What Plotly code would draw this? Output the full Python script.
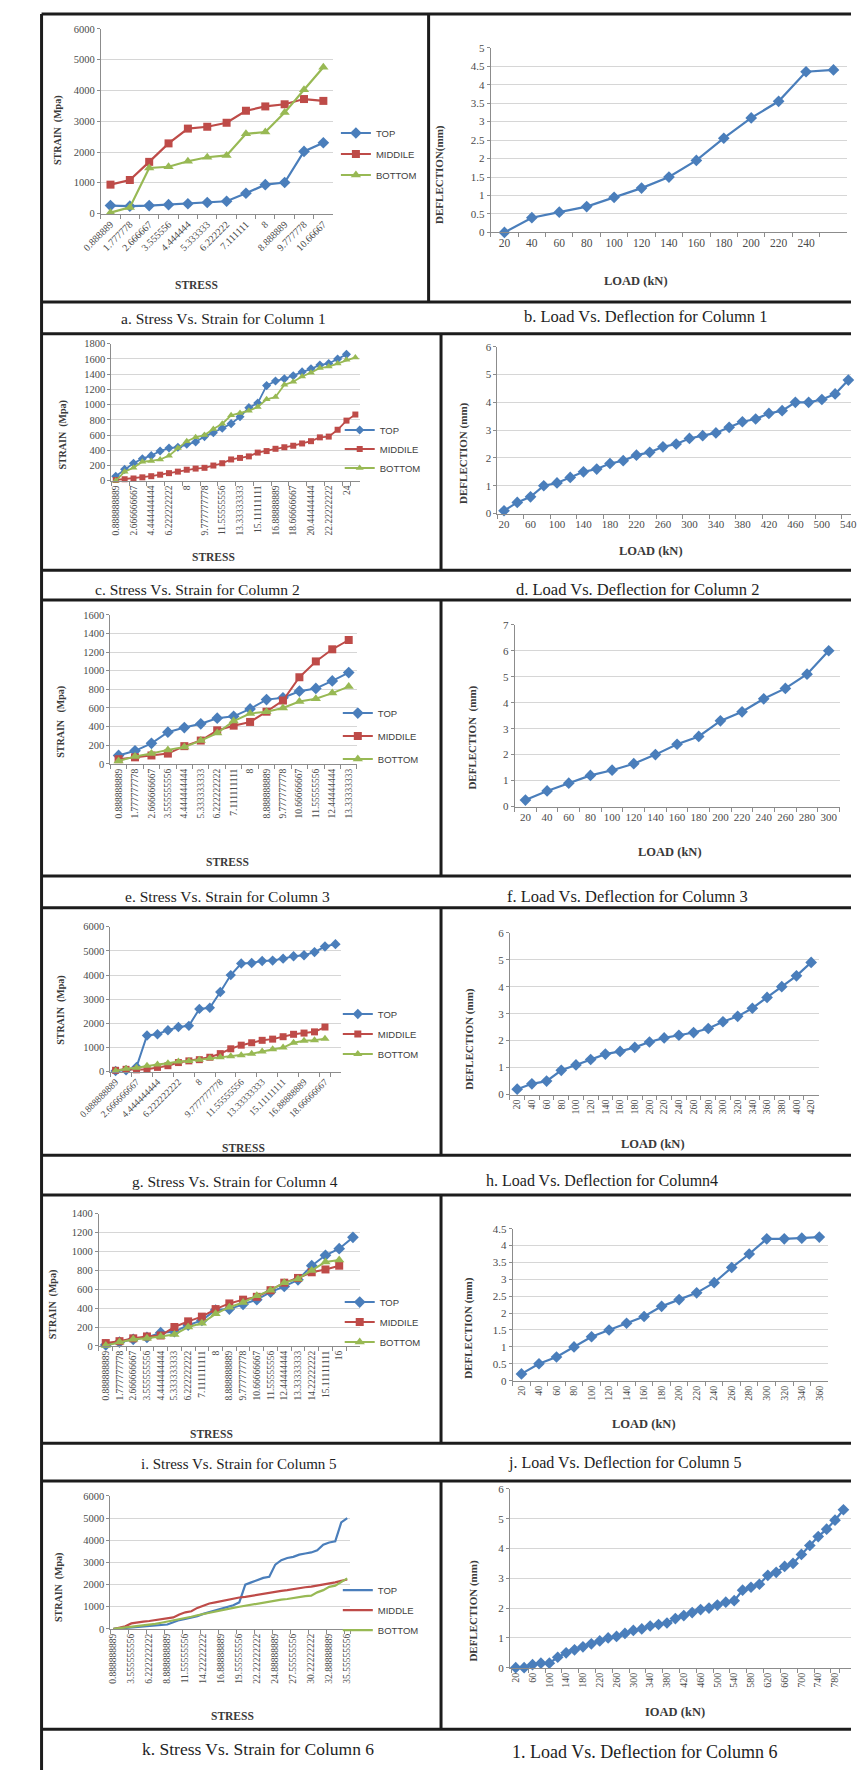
import plotly.graph_objects as go

W, H = 857, 1776

# ---------------------------------------------------------------- categories
STRESS_LABELS = [
    "0.888888889", "1.777777778", "2.666666667", "3.555555556", "4.444444444",
    "5.333333333", "6.222222222", "7.111111111", "8", "8.888888889",
    "9.777777778", "10.66666667", "11.55555556", "12.44444444", "13.33333333",
    "14.22222222", "15.11111111", "16", "16.88888889", "17.77777778",
    "18.66666667", "19.55555556", "20.44444444", "21.33333333", "22.22222222",
    "23.11111111", "24", "24.88888889", "25.77777778", "26.66666667",
    "27.55555556", "28.44444444", "29.33333333", "30.22222222", "31.11111111",
    "32", "32.88888889", "33.77777778", "34.66666667", "35.55555556",
]
STRESS_LABELS_C1 = [
    "0.888889", "1.777778", "2.666667", "3.555556", "4.444444", "5.333333",
    "6.222222", "7.111111", "8", "8.888889", "9.777778", "10.66667",
]
LOAD_STEPS = [
    "20", "40", "60", "80", "100", "120", "140", "160", "180", "200",
    "220", "240", "260", "280", "300", "320", "340", "360", "380", "400",
    "420", "440", "460", "480", "500", "520", "540", "560", "580", "600",
    "620", "640", "660", "680", "700", "720", "740", "760", "780", "800",
]

# ---------------------------------------------------------------- column 1
C1_TOP = [260, 240, 260, 290, 320, 360, 400, 660, 940, 1010, 2020, 2300]
C1_MIDDLE = [940, 1090, 1680, 2280, 2760, 2820, 2950, 3340, 3480, 3550, 3720, 3660]
C1_BOTTOM = [30, 200, 1480, 1520, 1700, 1830, 1890, 2590, 2650, 3280, 4020, 4750]
C1_DEFLECTION = [0, 0.4, 0.55, 0.7, 0.95, 1.2, 1.5, 1.95, 2.55, 3.1, 3.55, 4.35, 4.4]

# ---------------------------------------------------------------- column 2
C2_TOP = [60, 150, 230, 290, 330, 390, 430, 440, 480, 510, 580, 630, 690, 750,
          840, 960, 1020, 1250, 1310, 1340, 1380, 1430, 1470, 1520, 1540, 1600, 1660]
C2_MIDDLE = [10, 20, 30, 45, 60, 80, 100, 120, 145, 160, 170, 200, 230, 280,
             300, 320, 370, 390, 420, 440, 460, 490, 520, 570, 580, 670, 790, 870]
C2_BOTTOM = [0, 120, 170, 250, 260, 280, 330, 430, 520, 570, 600, 680, 750, 860,
             890, 920, 970, 1070, 1100, 1260, 1300, 1370, 1420, 1480, 1500, 1540, 1590, 1620]
C2_DEFLECTION = [0.1, 0.4, 0.6, 1.0, 1.1, 1.3, 1.5, 1.6, 1.8, 1.9, 2.1, 2.2, 2.4, 2.5,
                 2.7, 2.8, 2.9, 3.1, 3.3, 3.4, 3.6, 3.7, 4.0, 4.0, 4.1, 4.3, 4.8]

# ---------------------------------------------------------------- column 3
C3_TOP = [90, 140, 220, 340, 390, 430, 490, 510, 590, 690, 710, 780, 810, 890, 980]
C3_MIDDLE = [50, 70, 90, 110, 190, 250, 360, 410, 450, 560, 680, 930, 1100, 1230, 1330]
C3_BOTTOM = [30, 80, 110, 150, 180, 250, 330, 460, 540, 560, 600, 670, 700, 760, 830]
C3_DEFLECTION = [0.25, 0.6, 0.9, 1.2, 1.4, 1.65, 2.0, 2.4, 2.7, 3.3, 3.65, 4.15, 4.55, 5.1, 6.0]

# ---------------------------------------------------------------- column 4
C4_TOP = [30, 60, 200, 1500, 1550, 1720, 1850, 1900, 2600, 2650, 3300, 4000,
          4480, 4500, 4580, 4600, 4680, 4780, 4820, 4950, 5180, 5280]
C4_MIDDLE = [60, 100, 80, 100, 180, 250, 380, 450, 500, 600, 750, 950, 1100,
             1200, 1300, 1350, 1450, 1550, 1600, 1650, 1850]
C4_BOTTOM = [30, 120, 170, 250, 300, 350, 420, 450, 500, 560, 600, 640, 680,
             740, 840, 930, 1000, 1200, 1280, 1300, 1370]
C4_DEFLECTION = [0.2, 0.4, 0.5, 0.9, 1.1, 1.3, 1.5, 1.6, 1.75, 1.95, 2.1, 2.2,
                 2.3, 2.45, 2.7, 2.9, 3.2, 3.6, 4.0, 4.4, 4.9]

# ---------------------------------------------------------------- column 5
C5_TOP = [10, 40, 70, 90, 140, 150, 220, 270, 380, 390, 440, 490, 570, 630,
          700, 850, 960, 1030, 1150]
C5_MIDDLE = [30, 50, 80, 100, 110, 200, 260, 310, 390, 450, 490, 520, 590, 670,
             720, 780, 810, 850]
C5_BOTTOM = [5, 40, 70, 80, 100, 120, 200, 240, 340, 410, 460, 530, 590, 670,
             710, 800, 890, 910]
C5_DEFLECTION = [0.2, 0.5, 0.7, 1.0, 1.3, 1.5, 1.7, 1.9, 2.2, 2.4, 2.6, 2.9,
                 3.35, 3.75, 4.2, 4.2, 4.22, 4.25]

# ---------------------------------------------------------------- column 6
C6_TOP = [0, 20, 40, 60, 80, 100, 110, 130, 160, 200, 300, 400, 450, 500, 580,
          680, 760, 850, 920, 1000, 1070, 1200, 2000, 2100, 2200, 2300, 2350,
          2900, 3100, 3200, 3250, 3350, 3400, 3450, 3550, 3800, 3900, 3950, 4800, 5000]
C6_MIDDLE = [0, 60, 120, 250, 300, 330, 360, 400, 440, 480, 520, 650, 750, 800,
             950, 1050, 1150, 1200, 1260, 1320, 1380, 1420, 1450, 1500, 1550, 1600,
             1650, 1680, 1720, 1750, 1800, 1850, 1880, 1910, 1950, 2000, 2050, 2100,
             2170, 2230]
C6_BOTTOM = [0, 30, 60, 100, 130, 170, 200, 230, 280, 330, 400, 450, 500, 550,
             620, 680, 740, 800, 850, 900, 950, 1000, 1050, 1100, 1150, 1200, 1250,
             1300, 1320, 1350, 1400, 1450, 1480, 1500, 1650, 1750, 1900, 1950, 2100, 2280]
C6_DEFLECTION = [0, 0, 0.1, 0.15, 0.15, 0.35, 0.5, 0.6, 0.7, 0.8, 0.9, 1.0, 1.05,
                 1.15, 1.25, 1.3, 1.4, 1.45, 1.5, 1.65, 1.75, 1.85, 1.95, 2.0, 2.1,
                 2.2, 2.25, 2.6, 2.7, 2.8, 3.1, 3.2, 3.4, 3.5, 3.8, 4.1, 4.4, 4.65,
                 4.95, 5.3]

SERIES_STYLE = {
    "TOP": dict(color="#4A7EBB", symbol="diamond", boost=1),
    "MIDDILE": dict(color="#BE4B48", symbol="square", boost=0),
    "MIDDLE": dict(color="#BE4B48", symbol="square", boost=0),
    "BOTTOM": dict(color="#98B954", symbol="triangle-up", boost=1),
}
BLUE = "#4A7EBB"
SERIF = "Liberation Serif"
SANS = "Liberation Sans"


def fx(px):
    return px / W


def fy(py):
    return 1 - py / H


# box = (left, right, top, bottom) of the plotting area, in page pixels
panels = [
    dict(kind="strain", box=(72, 315, 23, 209), cats=STRESS_LABELS_C1,
         series=[("TOP", C1_TOP), ("MIDDILE", C1_MIDDLE), ("BOTTOM", C1_BOTTOM)],
         ymax=6000, dy=1000, xr=(-0.5, 11.5), ticks=STRESS_LABELS_C1, angle=-45,
         xfs=10, msize=8, lw=2.2, legend=(318, 149, 2),
         ytitle=("STRAIN  (Mpa)", 27, 125), xtitle=("STRESS", 172, 281),
         caption=("a. Stress Vs. Strain for Column 1", 200, 315, 15.5)),
    dict(kind="load", box=(480, 853, 42, 228), cats=LOAD_STEPS[:13],
         values=C1_DEFLECTION, ymax=5, dy=0.5, xr=(-0.5, 12.5),
         ticks=LOAD_STEPS[:12], angle=0, xfs=11.5,
         ytitle=("DEFLECTION(mm)", 427, 170), xtitle=("LOAD (kN)", 632, 277),
         caption=("b. Load Vs. Deflection for Column 1", 643, 313, 16.5)),
    dict(kind="strain", box=(83, 343, 340, 478), cats=STRESS_LABELS[:28],
         series=[("TOP", C2_TOP), ("MIDDILE", C2_MIDDLE), ("BOTTOM", C2_BOTTOM)],
         ymax=1800, dy=200, xr=(-0.5, 27.5), ticks=STRESS_LABELS[:28:2], angle=-90,
         xfs=9.5, msize=6, lw=1.8, legend=(322, 446, 0),
         ytitle=("STRAIN  (Mpa)", 33, 432), xtitle=("STRESS", 190, 555),
         caption=("c. Stress Vs. Strain for Column 2", 173, 587, 15.5)),
    dict(kind="load", box=(487, 857, 343, 511), cats=LOAD_STEPS[:27],
         values=C2_DEFLECTION, ymax=6, dy=1, xr=(-0.5, 26.2),
         ticks=LOAD_STEPS[:27:2], angle=0, xfs=11,
         ytitle=("DEFLECTION (mm)", 452, 450), xtitle=("LOAD (kN)", 648, 549),
         caption=("d. Load Vs. Deflection for Column 2", 634, 587, 16.5)),
    dict(kind="strain", box=(82, 340, 613, 763), cats=STRESS_LABELS[:15],
         series=[("TOP", C3_TOP), ("MIDDILE", C3_MIDDLE), ("BOTTOM", C3_BOTTOM)],
         ymax=1600, dy=200, xr=(-0.5, 14.5), ticks=STRESS_LABELS[:15], angle=-90,
         xfs=9.5, msize=8, lw=2, legend=(320, 735, 4),
         ytitle=("STRAIN   (Mpa)", 30, 721), xtitle=("STRESS", 205, 862),
         caption=("e. Stress Vs. Strain for Column 3", 205, 897, 15.5)),
    dict(kind="load", box=(505, 845, 623, 806), cats=LOAD_STEPS[:15],
         values=C3_DEFLECTION, ymax=7, dy=1, xr=(-0.5, 14.5),
         ticks=LOAD_STEPS[:15], angle=0, xfs=11,
         ytitle=("DEFLECTION  (mm)", 460, 737), xtitle=("LOAD (kN)", 668, 852),
         caption=("f. Load Vs. Deflection for Column 3", 623, 897, 16.5)),
    dict(kind="strain", box=(82, 323, 927, 1073), cats=STRESS_LABELS[:22],
         series=[("TOP", C4_TOP), ("MIDDILE", C4_MIDDLE), ("BOTTOM", C4_BOTTOM)],
         ymax=6000, dy=1000, xr=(-0.5, 21.5), ticks=STRESS_LABELS[:22:2], angle=-45,
         xfs=9.5, msize=7, lw=2, legend=(320, 1035, 1),
         ytitle=("STRAIN  (Mpa)", 30, 1011), xtitle=("STRESS", 221, 1150),
         caption=("g. Stress Vs. Strain for Column 4", 212, 1183, 15.5)),
    dict(kind="load", box=(500, 823, 933, 1096), cats=LOAD_STEPS[:21],
         values=C4_DEFLECTION, ymax=6, dy=1, xr=(-0.5, 20.5),
         ticks=LOAD_STEPS[:21], angle=-90, xfs=10,
         ytitle=("DEFLECTION (mm)", 458, 1040), xtitle=("LOAD (kN)", 650, 1146),
         caption=("h. Load Vs. Deflection for Column4", 596, 1182, 16)),
    dict(kind="strain", box=(70, 343, 1216, 1349), cats=STRESS_LABELS[:19],
         series=[("TOP", C5_TOP), ("MIDDILE", C5_MIDDLE), ("BOTTOM", C5_BOTTOM)],
         ymax=1400, dy=200, xr=(-0.5, 18.5), ticks=STRESS_LABELS[:18], angle=-90,
         xfs=9.5, msize=8, lw=2, legend=(322, 1325, 1),
         ytitle=("STRAIN  (Mpa)", 22, 1308), xtitle=("STRESS", 188, 1438),
         caption=("i. Stress Vs. Strain for Column 5", 217, 1468, 15)),
    dict(kind="load", box=(503, 833, 1231, 1384), cats=LOAD_STEPS[:18],
         values=C5_DEFLECTION, ymax=4.5, dy=0.5, xr=(-0.5, 17.5),
         ticks=LOAD_STEPS[:18], angle=-90, xfs=10,
         ytitle=("DEFLECTION (mm)", 456, 1331), xtitle=("LOAD (kN)", 640, 1428),
         caption=("j. Load Vs. Deflection for Column 5", 621, 1467, 16)),
    dict(kind="strain", box=(82, 333, 1500, 1634), cats=STRESS_LABELS[:40],
         series=[("TOP", C6_TOP), ("MIDDLE", C6_MIDDLE), ("BOTTOM", C6_BOTTOM)],
         ymax=6000, dy=1000, xr=(-0.5, 39.5), ticks=STRESS_LABELS[:40:3], angle=-90,
         xfs=9.5, msize=0, lw=2.2, legend=(320, 1615, 1),
         ytitle=("STRAIN  (Mpa)", 28, 1592), xtitle=("STRESS", 210, 1722),
         caption=("k. Stress Vs. Strain for Column 6", 237, 1755, 17.5)),
    dict(kind="load", box=(500, 857, 1493, 1673), cats=LOAD_STEPS[:40],
         values=C6_DEFLECTION, ymax=6, dy=1, xr=(-0.7, 39.9),
         ticks=LOAD_STEPS[:40:2], angle=-90, xfs=10,
         ytitle=("DEFLECTION (mm)", 462, 1616), xtitle=("IOAD (kN)", 673, 1718),
         caption=("1. Load Vs. Deflection for Column 6", 641, 1758, 18)),
]

fig = go.Figure()
layout = dict(
    width=W, height=H, margin=dict(l=0, r=0, t=0, b=0),
    paper_bgcolor="white", plot_bgcolor="white",
    font=dict(family=SERIF, color="#404040"),
    annotations=[], shapes=[],
)

legend_no = 0
for i, p in enumerate(panels, start=1):
    sfx = "" if i == 1 else str(i)
    xa, ya = "x" + sfx, "y" + sfx
    left, right, top, bottom = p["box"]
    small = p["kind"] == "strain"

    layout["xaxis" + sfx] = dict(
        domain=[fx(left), fx(right)], anchor=ya, type="category",
        categoryorder="array", categoryarray=p["cats"],
        range=list(p["xr"]), tickmode="array", tickvals=p["ticks"],
        ticktext=p["ticks"], tickangle=p["angle"], showgrid=False,
        showline=True, linecolor="#8C8C8C", linewidth=1,
        ticks="outside", ticklen=4, tickcolor="#8C8C8C", tickson="boundaries",
        tickfont=dict(family=SERIF, size=p["xfs"], color="#4a4a4a"),
        zeroline=False, fixedrange=True,
    )
    layout["yaxis" + sfx] = dict(
        domain=[fy(bottom), fy(top)], anchor=xa, range=[0, p["ymax"]],
        dtick=p["dy"], tick0=0, showgrid=True, gridcolor="#D6D6D6", gridwidth=1,
        showline=True, linecolor="#8C8C8C", linewidth=1,
        ticks="outside", ticklen=3, tickcolor="#8C8C8C",
        tickfont=dict(family=SERIF, size=10.5 if small else 11, color="#4a4a4a"),
        zeroline=False, fixedrange=True,
    )

    if small:
        legend_no += 1
        lname = "legend" if legend_no == 1 else "legend%d" % legend_no
        lx, ly, gap = p["legend"]
        layout[lname] = dict(
            x=fx(lx), y=fy(ly), xanchor="left", yanchor="middle",
            bgcolor="rgba(0,0,0,0)", borderwidth=0, tracegroupgap=gap,
            itemwidth=30, font=dict(family=SANS, size=9.5, color="#404040"),
        )
        for name, vals in p["series"]:
            st = SERIES_STYLE[name]
            mode = "lines+markers" if p["msize"] else "lines"
            fig.add_trace(go.Scatter(
                x=p["cats"][:len(vals)], y=vals, name=name, mode=mode,
                xaxis=xa, yaxis=ya, legend=lname,
                legendgroup="%s-%s" % (lname, name),
                line=dict(color=st["color"], width=p["lw"]),
                marker=dict(symbol=st["symbol"], size=p["msize"] + st["boost"],
                            color=st["color"], line=dict(width=0)),
                cliponaxis=False,
            ))
    else:
        fig.add_trace(go.Scatter(
            x=p["cats"], y=p["values"], mode="lines+markers", showlegend=False,
            xaxis=xa, yaxis=ya,
            line=dict(color=BLUE, width=2.2),
            marker=dict(symbol="diamond", size=9, color=BLUE, line=dict(width=0)),
            cliponaxis=False,
        ))

    text, tx, ty = p["ytitle"]
    layout["annotations"].append(dict(
        text="<b>%s</b>" % text, x=fx(tx), y=fy(ty), xref="paper", yref="paper",
        textangle=-90, showarrow=False, xanchor="center", yanchor="middle",
        font=dict(family=SERIF, size=10 if small else 11, color="#3a3a3a"),
    ))
    text, tx, ty = p["xtitle"]
    layout["annotations"].append(dict(
        text="<b>%s</b>" % text, x=fx(tx), y=fy(ty), xref="paper", yref="paper",
        showarrow=False, xanchor="center", yanchor="middle",
        font=dict(family=SERIF, size=11.5 if small else 12.5, color="#3a3a3a"),
    ))
    text, tx, ty, fs = p["caption"]
    layout["annotations"].append(dict(
        text=text, x=fx(tx), y=fy(ty), xref="paper", yref="paper",
        showarrow=False, xanchor="center", yanchor="middle",
        font=dict(family=SERIF, size=fs, color="#1e1e1e"),
    ))

# table rules around the chart cells
RULE = dict(color="#1c1c1c", width=3)
for yline in [8, 298, 330, 568, 598, 876, 908, 1157, 1197, 1447, 1485, 1735]:
    layout["shapes"].append(dict(type="line", xref="paper", yref="paper",
                                 x0=fx(10), x1=1, y0=fy(yline), y1=fy(yline),
                                 line=RULE, layer="above"))
layout["shapes"].append(dict(type="line", xref="paper", yref="paper",
                             x0=fx(10), x1=fx(10), y0=fy(8), y1=0,
                             line=RULE, layer="above"))
for xline, y0, y1 in [(415, 8, 298), (428, 330, 568), (428, 598, 876),
                      (428, 908, 1157), (428, 1197, 1447), (428, 1485, 1735)]:
    layout["shapes"].append(dict(type="line", xref="paper", yref="paper",
                                 x0=fx(xline), x1=fx(xline), y0=fy(y0), y1=fy(y1),
                                 line=RULE, layer="above"))

fig.update_layout(**layout)
fig.write_html("out.html")
